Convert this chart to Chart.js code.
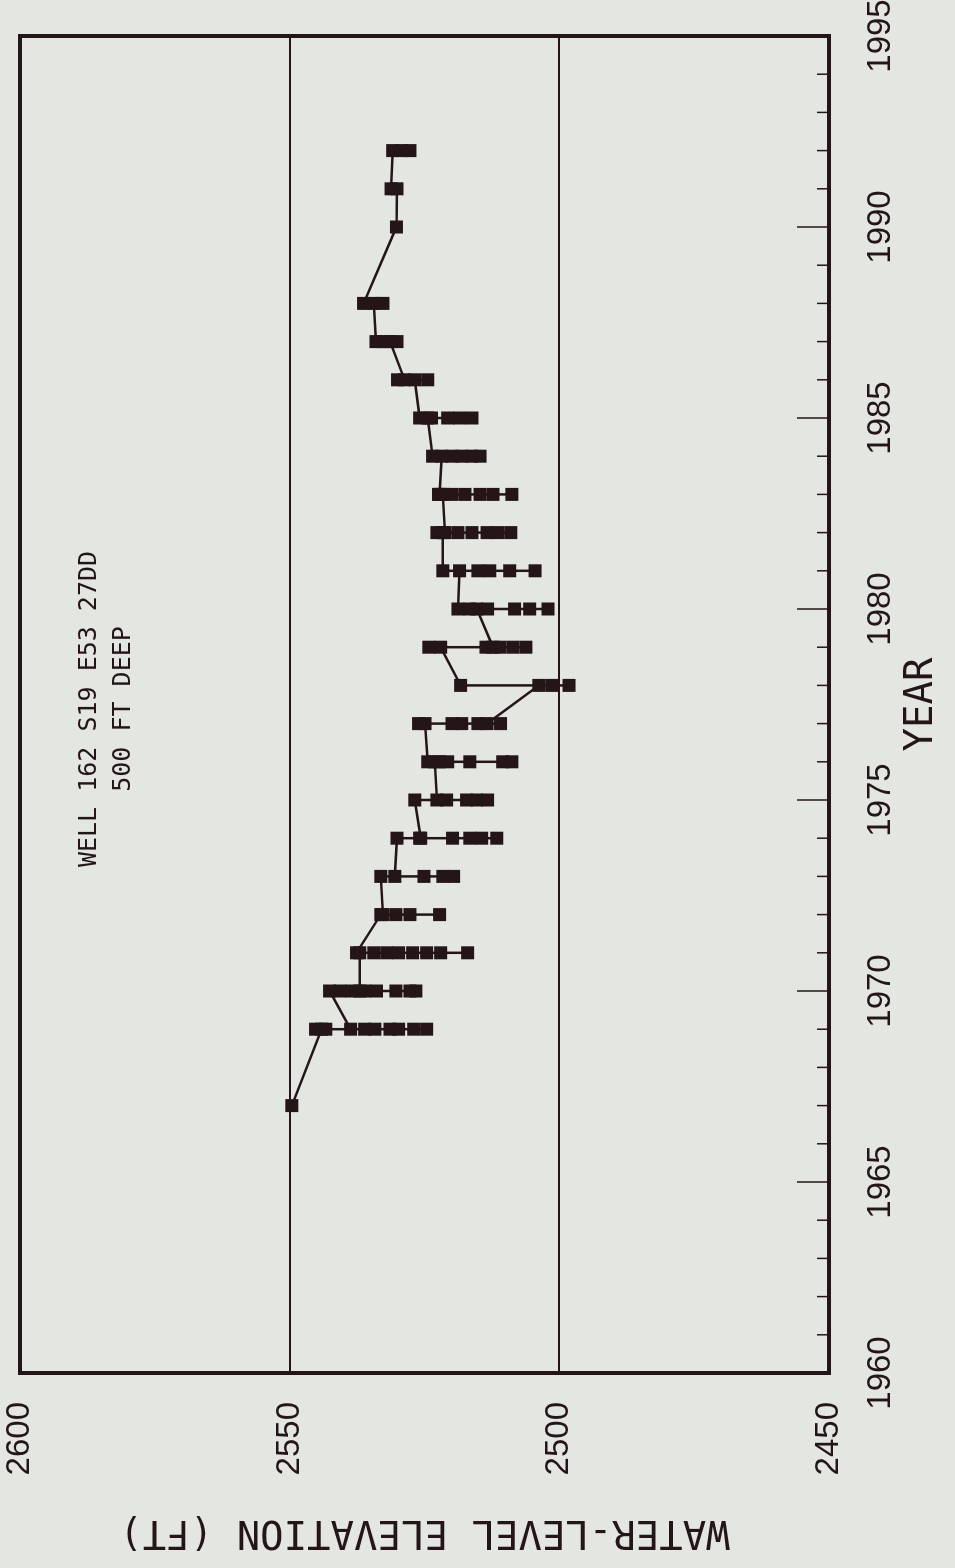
<!DOCTYPE html>
<html>
<head>
<meta charset="utf-8">
<title>Well 162 S19 E53 27DD</title>
<script src="https://cdn.jsdelivr.net/npm/chart.js@4/dist/chart.umd.min.js"></script>
<style>
    html, body { margin: 0; padding: 0; background: #e3e6e1; width: 955px; height: 1568px; overflow: hidden; }
    #myChart { position: absolute; left: 0; top: 0; transform-origin: 0 0; transform: translate(0, 1568px) rotate(-90deg); }
</style>
</head>
<body>
<canvas id="myChart" width="1568" height="955"></canvas>
<script>
const sampleYears = [1967, 1969, 1970, 1971, 1972, 1973, 1974, 1975, 1976, 1977, 1978, 1979,
    1980, 1981, 1982, 1983, 1984, 1985, 1986, 1987, 1988, 1990, 1991, 1992];

// water levels measured in each year, in the order the line joins them
const levelsByYear = [
    [2549.6],
    [2544.1, 2545.2, 2543.3, 2536.1, 2534.2, 2531.4, 2529.8, 2527.0, 2524.6, 2538.7],
    [2542.6, 2540.7, 2538.5, 2536.1, 2533.9, 2530.3, 2527.7, 2526.6, 2537.0],
    [2537.0, 2534.4, 2532.0, 2529.8, 2527.2, 2524.6, 2522.0, 2517.0, 2537.6],
    [2533.1, 2530.3, 2527.7, 2522.2, 2532.7],
    [2533.1, 2525.1, 2521.6, 2519.6, 2530.5],
    [2530.1, 2525.9, 2519.8, 2516.6, 2514.4, 2511.6, 2525.7],
    [2526.8, 2520.9, 2517.2, 2515.3, 2513.3, 2522.7],
    [2523.1, 2520.7, 2516.6, 2510.5, 2508.8, 2522.2, 2524.4],
    [2524.9, 2526.1, 2519.9, 2518.1, 2515.1, 2510.9, 2513.4],
    [2503.8, 2501.4, 2498.2, 2518.3],
    [2522.0, 2524.2, 2513.6, 2511.0, 2508.6, 2506.2, 2512.3],
    [2515.3, 2513.3, 2508.3, 2505.5, 2502.1, 2516.6, 2518.8],
    [2518.5, 2515.1, 2512.9, 2509.2, 2504.5, 2521.6],
    [2521.6, 2522.7, 2518.8, 2516.2, 2513.4, 2511.4, 2509.0, 2521.2],
    [2521.6, 2522.4, 2519.9, 2517.5, 2514.7, 2512.3, 2508.8, 2522.2],
    [2521.8, 2519.9, 2518.1, 2516.2, 2514.7, 2523.5],
    [2524.4, 2520.7, 2518.5, 2516.2, 2523.7, 2525.9],
    [2526.8, 2524.4, 2530.0, 2528.7],
    [2531.4, 2530.1, 2532.7, 2534.0],
    [2534.4, 2532.7, 2536.3],
    [2530.2],
    [2530.1, 2531.2],
    [2530.9, 2529.2, 2527.7]
];

const yearTicks = [1960, 1965, 1970, 1975, 1980, 1985, 1990, 1995];
const elevationTicks = [2450, 2500, 2550, 2600];
const noteLines = ['WELL 162 S19 E53 27DD', '500 FT DEEP'];

const ink = '#241618';
let myChart;

function getPoints() {
    let points = [];
    for (let i = 0; i < sampleYears.length; i++) {
        for (let j = 0; j < levelsByYear[i].length; j++) {
            points.push({ x: sampleYears[i], y: levelsByYear[i][j] });
        }
    }
    return points;
}

function noOverhang(scale) {
    scale.paddingTop = 0;
    scale.paddingBottom = 0;
    scale.paddingLeft = 0;
    scale.paddingRight = 0;
}

const frame = {
    id: 'frame',
    afterDraw(chart) {
        const ctx = chart.ctx;
        const area = chart.chartArea;
        const xScale = chart.scales.x;
        ctx.save();
        ctx.strokeStyle = ink;
        ctx.lineWidth = 1.5;
        for (let yr = yearTicks[0] + 1; yr < yearTicks[yearTicks.length - 1]; yr++) {
            const px = xScale.getPixelForValue(yr);
            const len = yr % 5 == 0 ? 32 : 12;
            ctx.beginPath();
            ctx.moveTo(px, area.bottom);
            ctx.lineTo(px, area.bottom - len);
            ctx.stroke();
        }
        ctx.lineWidth = 4;
        ctx.strokeRect(area.left, area.top, area.right - area.left, area.bottom - area.top);

        ctx.fillStyle = ink;
        ctx.font = '25px "DejaVu Sans Mono"';
        ctx.textAlign = 'center';
        ctx.textBaseline = 'middle';
        ctx.fillText(noteLines[0], area.left + 664, area.top + 69);
        ctx.fillText(noteLines[1], area.left + 664, area.top + 103);
        ctx.restore();
    }
};

function createChart() {
    const data = {
        datasets: [{
            label: 'water level',
            data: getPoints(),
            showLine: true,
            borderColor: ink,
            borderWidth: 2.5,
            backgroundColor: ink,
            pointStyle: 'rect',
            pointRadius: 9.2,
            pointBorderWidth: 0,
            pointBackgroundColor: ink
        }]
    };

    const config = {
        type: 'scatter',
        data: data,
        plugins: [frame],
        options: {
            responsive: false,
            devicePixelRatio: 1,
            animation: false,
            layout: { padding: { top: 20, right: 36, left: 0, bottom: 0 } },
            plugins: {
                legend: { display: false },
                tooltip: { enabled: false }
            },
            scales: {
                x: {
                    type: 'linear',
                    min: 1960,
                    max: 1995,
                    afterBuildTicks: function (scale) { scale.ticks = yearTicks.map(v => ({ value: v })); },
                    afterFit: function (scale) { scale.height = 126; noOverhang(scale); },
                    grid: { display: false },
                    border: { display: false },
                    ticks: {
                        color: ink,
                        padding: 24,
                        maxRotation: 0,
                        font: { family: '"Liberation Sans"', size: 33 },
                        callback: v => String(v)
                    },
                    title: {
                        display: true,
                        text: 'YEAR',
                        color: ink,
                        font: { family: '"DejaVu Sans Mono"', size: 39 },
                        padding: { top: 0, bottom: 10 }
                    }
                },
                y: {
                    min: 2450,
                    max: 2600,
                    afterBuildTicks: function (scale) { scale.ticks = elevationTicks.map(v => ({ value: v })); },
                    afterFit: function (scale) { scale.width = 195; noOverhang(scale); },
                    grid: { color: ink, lineWidth: 2, drawTicks: false },
                    border: { display: false },
                    ticks: {
                        color: ink,
                        padding: 29,
                        font: { family: '"Liberation Sans"', size: 33 },
                        callback: v => String(v)
                    },
                    title: {
                        display: true,
                        text: 'WATER-LEVEL ELEVATION (FT)',
                        color: ink,
                        font: { family: '"DejaVu Sans Mono"', size: 39 },
                        padding: { top: 13, bottom: 0 }
                    }
                }
            }
        }
    };
    if (myChart) { myChart.destroy(); }
    myChart = new Chart(document.getElementById('myChart'), config);
}

createChart();
</script>
</body>
</html>
